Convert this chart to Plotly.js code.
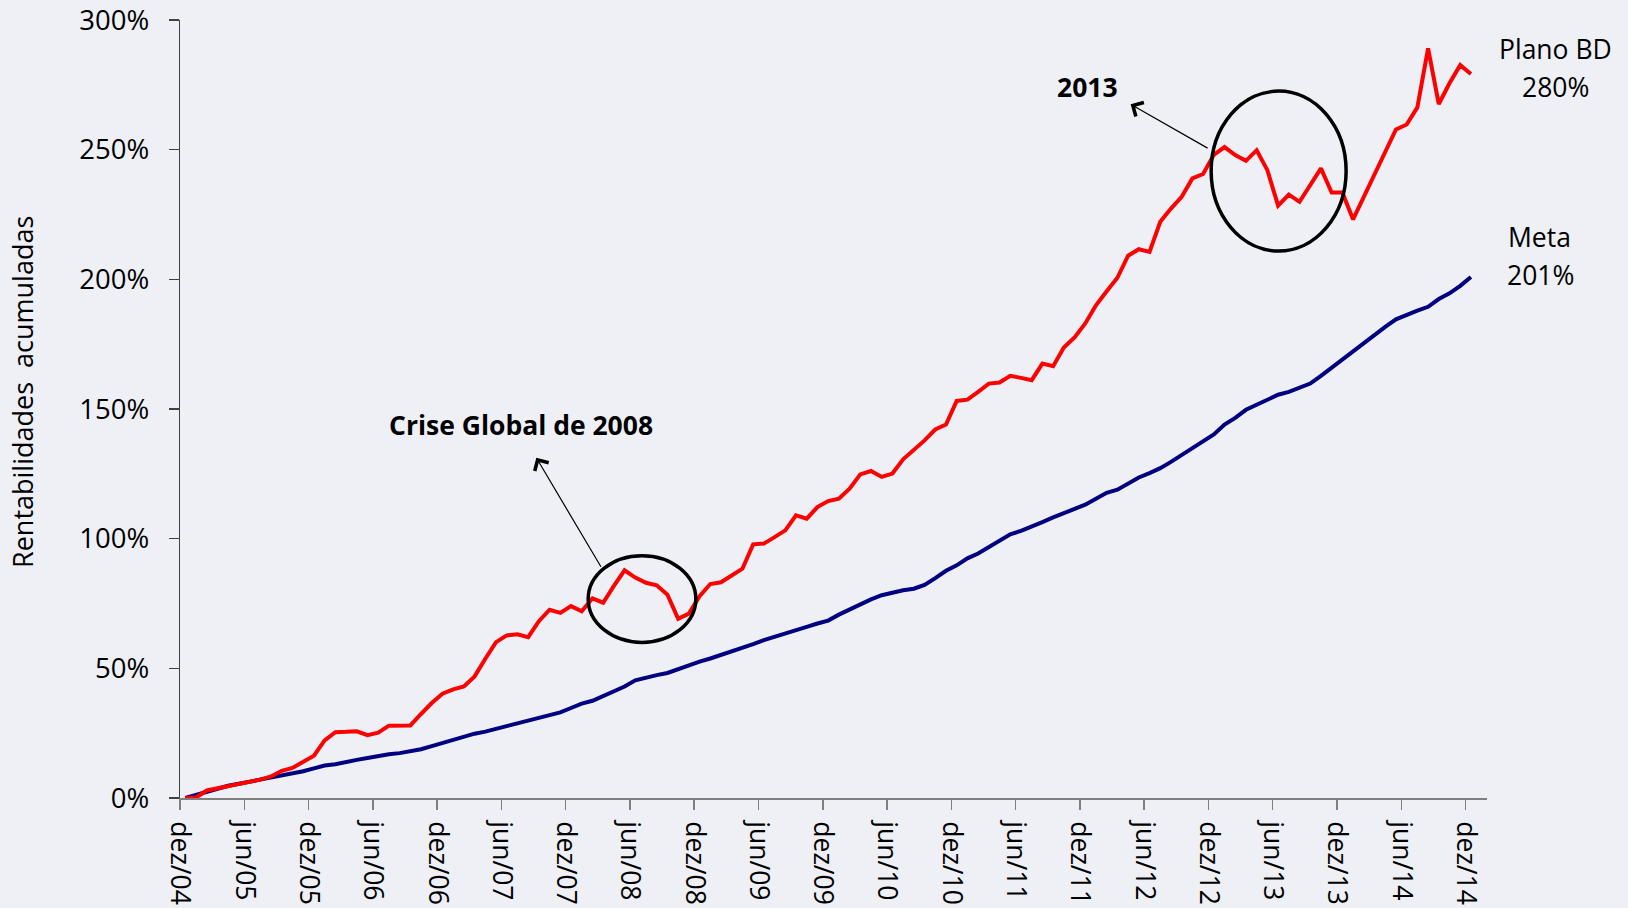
<!DOCTYPE html>
<html>
<head>
<meta charset="utf-8">
<script src="https://cdn.plot.ly/plotly-3.0.1.min.js"></script>
<style>
  html, body { margin: 0; padding: 0; background: #eff0f6; }
  #chart { width: 1628px; height: 908px; }
</style>
</head>
<body>
<div id="chart"></div>
<script>
// Tick labels of the x axis (every 6 months)
const rotulosEixoX = ['dez/04','jun/05','dez/05','jun/06','dez/06','jun/07','dez/07','jun/08','dez/08','jun/09','dez/09',
                      'jun/10','dez/10','jun/11','dez/11','jun/12','dez/12','jun/13','dez/13','jun/14','dez/14'];
const passoRotulos = 6;

// Y axis ticks (%)
const valoresEixoY = [0, 50, 100, 150, 200, 250, 300];

// Accumulated returns (%), monthly, dez/04 .. dez/14
const planoBD = [
  0, 0.2, 2.9, 3.7, 4.6, 5.4, 6.2, 7.1, 8.3, 10.5,
  11.6, 13.8, 16.3, 22.2, 25.4, 25.5, 25.7, 24.2, 25.2, 27.9,
  28.0, 28.0, 32.4, 36.6, 40.2, 41.9, 43.0, 46.9, 53.7, 60.1,
  62.7, 63.1, 62.0, 68.2, 72.6, 71.4, 74.0, 72.0, 77.0, 75.3,
  81.8, 87.8, 85.0, 83.0, 82.0, 78.4, 69.1, 71.1, 77.8, 82.5,
  83.2, 85.7, 88.4, 97.8, 98.1, 100.6, 103.2, 109.0, 107.7, 112.2,
  114.5, 115.4, 119.3, 124.8, 126.1, 123.8, 125.1, 130.6, 134.1, 137.9,
  142.1, 144.0, 153.1, 153.6, 156.6, 159.8, 160.2, 162.8, 162.0, 161.1,
  167.5, 166.5, 173.7, 177.6, 183.0, 190.0, 195.4, 200.6, 209.1, 211.6,
  210.6, 222.2, 227.3, 231.8, 238.9, 240.6, 248.0, 251.0, 247.9, 245.7,
  249.8, 242.1, 228.4, 232.7, 229.9, 236.1, 242.8, 233.5, 233.5, 223.1,
  231.8, 240.2, 248.6, 257.8, 259.7, 266.3, 289.1, 267.6, 275.6, 282.6,
  279.2
];

const meta = [
  0, 1.2, 2.4, 3.6, 4.7, 5.5, 6.3, 6.9, 7.6, 8.6,
  9.3, 10.3, 11.4, 12.5, 13.0, 14.0, 14.7, 15.4, 16.2, 16.9,
  17.3, 17.9, 18.8, 20.0, 21.2, 22.6, 24.0, 24.8, 25.6, 26.7,
  27.6, 28.8, 30.0, 30.7, 31.8, 33.0, 34.7, 36.4, 37.5, 39.3,
  40.9, 43.0, 45.4, 46.6, 47.4, 48.2, 49.8, 51.4, 52.6, 53.8,
  55.1, 56.4, 57.8, 59.3, 60.9, 62.1, 63.3, 64.4, 66.0, 67.3,
  68.4, 70.7, 72.7, 74.7, 76.6, 78.2, 79.2, 80.1, 80.7, 82.2,
  84.8, 87.6, 89.7, 92.4, 94.3, 96.8, 99.6, 101.7, 103.0, 104.5,
  106.4, 108.2, 109.8, 111.4, 113.1, 115.4, 117.7, 118.9, 121.2, 123.6,
  125.3, 127.2, 129.6, 132.2, 134.7, 137.2, 140.2, 144.0, 146.6, 149.7,
  151.7, 153.7, 155.5, 156.6, 158.1, 159.8, 162.8, 166.0, 169.2, 172.2,
  175.3, 178.6, 181.7, 184.6, 186.4, 187.9, 189.4, 192.4, 194.6, 197.5,
  200.9
];

const mesIdx = planoBD.map((_, i) => i);
const FONT = '"Open Sans", "Noto Sans", sans-serif';
const BG = '#eff0f6';

const traces = [
  { x: mesIdx, y: meta, type: 'scatter', mode: 'lines', name: 'Meta',
    line: { color: '#000080', width: 4 }, hoverinfo: 'skip' },
  { x: mesIdx, y: planoBD, type: 'scatter', mode: 'lines', name: 'Plano BD',
    line: { color: '#ff0000', width: 4 }, hoverinfo: 'skip' }
];

const W = 1628, H = 908, ML = 180, MR = 141, MT = 20, MB = 110;
const pw = W - ML - MR, ph = H - MT - MB;
const px = v => (v - ML) / pw;          // pixel -> paper x
const py = v => (H - MB - v) / ph;      // pixel -> paper y

function label(text, xp, yp, bold) {
  return { text: bold ? '<b>' + text + '</b>' : text, xref: 'paper', yref: 'paper',
           x: px(xp), y: py(yp), xanchor: 'center', yanchor: 'middle', showarrow: false,
           font: { family: FONT, size: 26.5, color: '#000' } };
}

const layout = {
  width: W, height: H,
  margin: { l: ML, r: MR, t: MT, b: MB, pad: 0 },
  paper_bgcolor: BG, plot_bgcolor: BG,
  showlegend: false,
  font: { family: FONT, color: '#000' },
  xaxis: {
    range: [-0.5, 121.5],
    tickmode: 'array',
    tickvals: rotulosEixoX.map((_, i) => i * passoRotulos - 0.5),
    ticktext: rotulosEixoX,
    tickangle: 90,
    ticklabelshift: 5.4,
    ticklabelstandoff: 6,
    ticks: 'outside', ticklen: 10, tickwidth: 1.5, tickcolor: '#7f7f7f',
    showline: true, linecolor: '#7f7f7f', linewidth: 2,
    showgrid: false, zeroline: false,
    tickfont: { family: FONT, size: 26.5, color: '#000' }
  },
  yaxis: {
    range: [0, 300],
    tickmode: 'array',
    tickvals: valoresEixoY,
    ticktext: valoresEixoY.map(v => v + '%'),
    ticks: 'outside', ticklen: 10, tickwidth: 1.3, tickcolor: '#404040',
    ticklabelstandoff: 14,
    showline: true, linecolor: '#404040', linewidth: 1.3,
    showgrid: false, zeroline: false,
    tickfont: { family: FONT, size: 27.5, color: '#000' }
  },
  shapes: [
    { type: 'circle', xref: 'x', yref: 'y', x0: 95.75, x1: 108.35, y0: 210.9, y1: 272.6,
      line: { color: '#000', width: 3.5 } },
    { type: 'circle', xref: 'x', yref: 'y', x0: 37.6, x1: 47.65, y0: 60.0, y1: 93.45,
      line: { color: '#000', width: 3.5 } }
  ],
  annotations: [
    { text: 'Rentabilidades\u00a0 acumuladas', textangle: -90, xref: 'paper', yref: 'paper',
      x: px(23), y: py(392), xanchor: 'center', yanchor: 'middle', showarrow: false,
      font: { family: FONT, size: 27, color: '#000' } },
    label('Plano BD', 1555, 49.3, false),
    label('280%', 1555.5, 87, false),
    label('Meta', 1539.5, 237.3, false),
    label('201%', 1540, 274.5, false),
    label('2013', 1087, 87.3, true),
    label('Crise Global de 2008', 521, 424.5, true),
    { text: '', xref: 'x', yref: 'y', x: 88.24, y: 267.5, ax: 78.4, ay: 44.7,
      showarrow: true, arrowhead: 4, arrowsize: 2.6, arrowwidth: 1.2, arrowcolor: '#000' },
    { text: '', xref: 'x', yref: 'y', x: 32.76, y: 131.2, ax: 65.5, ay: 110.5,
      showarrow: true, arrowhead: 4, arrowsize: 2.6, arrowwidth: 1.2, arrowcolor: '#000' }
  ]
};

Plotly.newPlot('chart', traces, layout, { displayModeBar: false, staticPlot: true });
</script>
</body>
</html>
